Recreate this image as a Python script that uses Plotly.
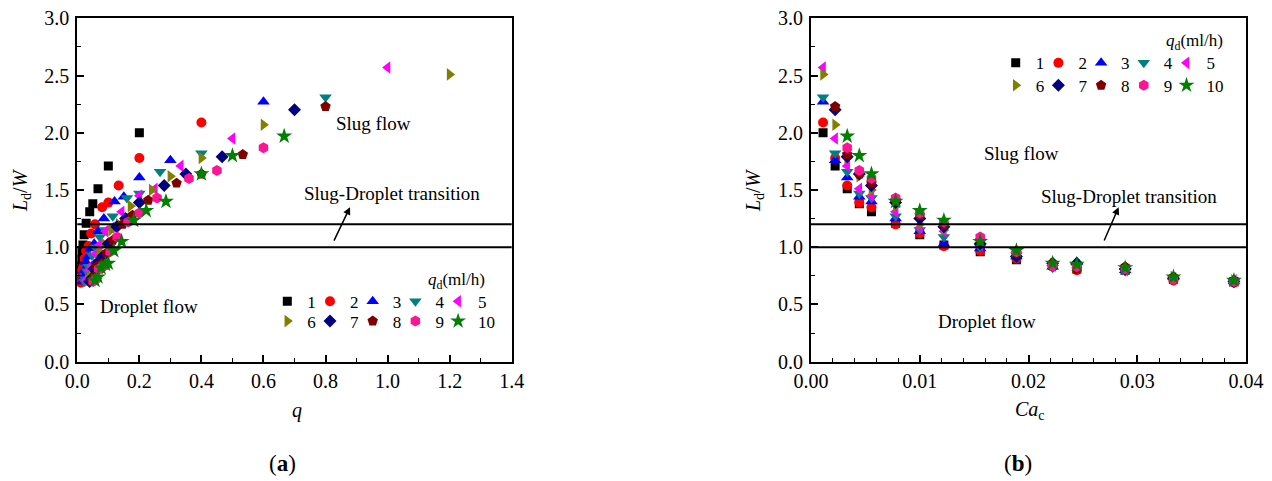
import plotly.graph_objects as go

# ---------------- data ----------------
qd_labels = ["1", "2", "3", "4", "5", "6", "7", "8", "9", "10"]

ca_c = [0.00111, 0.00222, 0.00333, 0.00444, 0.00556, 0.00778, 0.01, 0.01222,
        0.01556, 0.01889, 0.02222, 0.02444, 0.02889, 0.03333, 0.03889]

q1 = [0.2, 0.1, 0.0667, 0.05, 0.04, 0.0286, 0.0222, 0.0182, 0.0143, 0.0118, 0.01, 0.0091, 0.0077, 0.0067, 0.0057]
q2 = [0.4, 0.2, 0.1333, 0.1, 0.08, 0.0571, 0.0444, 0.0364, 0.0286, 0.0235, 0.02, 0.0182, 0.0154, 0.0133, 0.0114]
q3 = [0.6, 0.3, 0.2, 0.15, 0.12, 0.0857, 0.0667, 0.0545, 0.0429, 0.0353, 0.03, 0.0273, 0.0231, 0.02, 0.0171]
q4 = [0.8, 0.4, 0.2667, 0.2, 0.16, 0.1143, 0.0889, 0.0727, 0.0571, 0.0471, 0.04, 0.0364, 0.0308, 0.0267, 0.0229]
q5 = [1.0, 0.5, 0.3333, 0.25, 0.2, 0.1429, 0.1111, 0.0909, 0.0714, 0.0588, 0.05, 0.0455, 0.0385, 0.0333, 0.0286]
q6 = [1.2, 0.6, 0.4, 0.3, 0.24, 0.1714, 0.1333, 0.1091, 0.0857, 0.0706, 0.06, 0.0545, 0.0462, 0.04, 0.0343]
q7 = [0.7, 0.4667, 0.35, 0.28, 0.2, 0.1556, 0.1273, 0.1, 0.0824, 0.07, 0.0636, 0.0538, 0.0467, 0.04]
q8 = [0.8, 0.5333, 0.4, 0.32, 0.2286, 0.1778, 0.1455, 0.1143, 0.0941, 0.08, 0.0727, 0.0615, 0.0533, 0.0457]
q9 = [0.6, 0.45, 0.36, 0.2571, 0.2, 0.1636, 0.1286, 0.1059, 0.09, 0.0818, 0.0692, 0.06, 0.0514]
q10 = [0.6667, 0.5, 0.4, 0.2857, 0.2222, 0.1818, 0.1429, 0.1176, 0.1, 0.0909, 0.0769, 0.0667, 0.0571]

L1 = [2.00, 1.71, 1.51, 1.38, 1.31, 1.21, 1.11, 1.02, 0.96, 0.89, 0.84, 0.81, 0.80, 0.72, 0.70]
L2 = [2.09, 1.78, 1.54, 1.39, 1.35, 1.20, 1.12, 1.01, 0.97, 0.90, 0.83, 0.80, 0.80, 0.71, 0.69]
L3 = [2.27, 1.76, 1.61, 1.44, 1.40, 1.25, 1.14, 1.03, 0.99, 0.92, 0.83, 0.87, 0.80, 0.74, 0.70]
L4 = [2.31, 1.82, 1.66, 1.47, 1.43, 1.27, 1.15, 1.09, 1.00, 0.93, 0.82, 0.83, 0.79, 0.72, 0.70]
L5 = [2.57, 1.95, 1.71, 1.51, 1.45, 1.31, 1.17, 1.14, 1.02, 0.94, 0.84, 0.84, 0.80, 0.73, 0.71]
L6 = [2.51, 2.07, 1.78, 1.62, 1.50, 1.36, 1.20, 1.15, 1.03, 0.95, 0.85, 0.83, 0.81, 0.74, 0.71]
L7 = [2.20, 1.79, 1.64, 1.54, 1.39, 1.25, 1.18, 1.03, 0.92, 0.86, 0.86, 0.81, 0.73, 0.70]
L8 = [2.23, 1.81, 1.64, 1.56, 1.41, 1.28, 1.20, 1.06, 0.95, 0.86, 0.81, 0.83, 0.74, 0.71]
L9 = [1.87, 1.67, 1.60, 1.43, 1.30, 1.22, 1.09, 0.96, 0.84, 0.83, 0.81, 0.72, 0.70]
L10 = [1.97, 1.80, 1.64, 1.40, 1.32, 1.235, 1.05, 0.97, 0.86, 0.85, 0.82, 0.74, 0.71]

ca1 = ca_c
ca2 = ca_c
ca3 = ca_c
ca4 = ca_c
ca5 = ca_c
ca6 = ca_c
ca7 = ca_c[1:]
ca8 = ca_c[1:]
ca9 = ca_c[2:]
ca10 = ca_c[2:]

q_series = [q1, q2, q3, q4, q5, q6, q7, q8, q9, q10]
ca_series = [ca1, ca2, ca3, ca4, ca5, ca6, ca7, ca8, ca9, ca10]
L_series = [L1, L2, L3, L4, L5, L6, L7, L8, L9, L10]

# ---------------- style ----------------
symbols = ["square", "circle", "triangle-up", "triangle-down", "triangle-left",
           "triangle-right", "diamond", "pentagon", "hexagon", "star"]
colors = ["#000000", "#FF0000", "#0000FF", "#008080", "#FF00FF",
          "#808000", "#000080", "#800000", "#FF1493", "#008000"]
sizes = [9, 10, 11, 11, 11, 11, 10, 11, 11, 12]

FONT = "Liberation Serif"
# the page body has an 8px margin, so the figure is drawn 8px in from the corner
OFF = 8
W, H = 1272 - OFF, 481 - OFF

def px_x(p):
    return (p - OFF) / W

def px_y(p):
    return 1 - (p - OFF) / H

ITEM_W = 42.7 / W
LAST_W = 70 / W

fig = go.Figure()

for i in range(10):
    leg_left = "legend" if i < 5 else "legend2"
    fig.add_trace(go.Scatter(
        x=q_series[i], y=L_series[i], mode="markers", name=qd_labels[i],
        marker=dict(symbol=symbols[i], color=colors[i], size=sizes[i], line=dict(width=0)),
        xaxis="x", yaxis="y", legend=leg_left, showlegend=True,
        legendwidth=(LAST_W if i in (4, 9) else ITEM_W)))
for i in range(10):
    leg_right = "legend3" if i < 5 else "legend4"
    fig.add_trace(go.Scatter(
        x=ca_series[i], y=L_series[i], mode="markers", name=qd_labels[i],
        marker=dict(symbol=symbols[i], color=colors[i], size=sizes[i], line=dict(width=0)),
        xaxis="x2", yaxis="y2", legend=leg_right, showlegend=True,
        legendwidth=(LAST_W if i in (4, 9) else ITEM_W)))

axis_common = dict(
    showline=True, linecolor="black", linewidth=2, mirror=True,
    ticks="inside", ticklen=7, tickwidth=1.5, tickcolor="black",
    showgrid=False, zeroline=False, automargin=False, ticklabeloverflow="allow",
    tickfont=dict(family=FONT, size=20, color="black"),
)
xminor = lambda d: dict(dtick=d, ticks="inside", ticklen=4, tickcolor="black", tickwidth=1.2)

fig.update_layout(
    width=W, height=H,
    margin=dict(l=0, r=0, t=0, b=0, autoexpand=False),
    paper_bgcolor="white", plot_bgcolor="white",
    font=dict(family=FONT, color="black"),
    xaxis=dict(domain=[px_x(77.3), px_x(511.7)], range=[0, 1.4], dtick=0.2, tickformat=".1f",
               anchor="y", minor=xminor(0.1), ticklabelstandoff=0, **axis_common),
    yaxis=dict(domain=[px_y(361.7), px_y(18.3)], range=[0, 3], dtick=0.5, tickformat=".1f",
               anchor="x", minor=xminor(0.25), ticklabelstandoff=2, **axis_common),
    xaxis2=dict(domain=[px_x(811), px_x(1246)], range=[0, 0.04], dtick=0.01, tickformat=".2f",
                anchor="y2", minor=xminor(0.002), ticklabelstandoff=0, **axis_common),
    yaxis2=dict(domain=[px_y(361.7), px_y(18.3)], range=[0, 3], dtick=0.5, tickformat=".1f",
                anchor="x2", minor=xminor(0.25), ticklabelstandoff=2, **axis_common),
)

leg_common = dict(orientation="h", xanchor="left", yanchor="middle",
                  bgcolor="rgba(0,0,0,0)", borderwidth=0,
                  font=dict(family=FONT, size=17, color="black"),
                  entrywidthmode="fraction", entrywidth=ITEM_W,
                  itemsizing="trace", traceorder="normal")

fig.update_layout(
    legend=dict(x=px_x(287.3 - 20), y=px_y(301.7), **leg_common),
    legend2=dict(x=px_x(287.3 - 20), y=px_y(321.5), **leg_common),
    legend3=dict(x=px_x(1015.7 - 20), y=px_y(63.3), **leg_common),
    legend4=dict(x=px_x(1015.7 - 20), y=px_y(85.7), **leg_common),
)

# reference lines (transition band)
for yref, xref in [("y", "x domain"), ("y2", "x2 domain")]:
    for yv in [1.0, 1.2]:
        fig.add_shape(type="line", xref=xref, yref=yref, x0=0, x1=1, y0=yv, y1=yv,
                      line=dict(color="black", width=2))

txt = dict(family=FONT, size=19, color="black")
C = dict(xanchor="center", yanchor="middle", showarrow=False)
ann = []
# left panel texts
ann.append(dict(x=0.956, y=2.08, xref="x", yref="y", text="Slug flow", font=txt, **C))
ann.append(dict(x=1.014, y=1.47, xref="x", yref="y", text="Slug-Droplet transition", font=txt, **C))
ann.append(dict(x=0.23, y=0.48, xref="x", yref="y", text="Droplet flow", font=txt, **C))
ann.append(dict(x=0.879, y=1.35, ax=0.825, ay=1.045, xref="x", yref="y", axref="x", ayref="y",
                text="", showarrow=True, arrowhead=2, arrowsize=1, arrowwidth=1.5, arrowcolor="black"))
# right panel texts
ann.append(dict(x=0.01936, y=1.817, xref="x2", yref="y2", text="Slug flow", font=txt, **C))
ann.append(dict(x=0.02927, y=1.44, xref="x2", yref="y2", text="Slug-Droplet transition", font=txt, **C))
ann.append(dict(x=0.01615, y=0.349, xref="x2", yref="y2", text="Droplet flow", font=txt, **C))
ann.append(dict(x=0.02829, y=1.35, ax=0.0269, ay=1.046, xref="x2", yref="y2", axref="x2", ayref="y2",
                text="", showarrow=True, arrowhead=2, arrowsize=1, arrowwidth=1.5, arrowcolor="black"))
# legend titles
leg_title = "<i>q</i><sub>d</sub>(ml/h)"
ann.append(dict(x=px_x(487), y=px_y(281), xref="paper", yref="paper", xanchor="right", yanchor="middle",
                text=leg_title, showarrow=False, font=dict(family=FONT, size=17, color="black")))
ann.append(dict(x=px_x(1225), y=px_y(42), xref="paper", yref="paper", xanchor="right", yanchor="middle",
                text=leg_title, showarrow=False, font=dict(family=FONT, size=17, color="black")))
# axis titles
ytitle = "<i>L</i><sub>d</sub>/<i>W</i>"
big = dict(family=FONT, size=20, color="black")
ann.append(dict(x=px_x(21), y=px_y(190), xref="paper", yref="paper", text=ytitle, textangle=-90, font=big, **C))
ann.append(dict(x=px_x(754), y=px_y(190), xref="paper", yref="paper", text=ytitle, textangle=-90, font=big, **C))
ann.append(dict(x=px_x(297), y=px_y(410), xref="paper", yref="paper", text="<i>q</i>", font=big, **C))
ann.append(dict(x=px_x(1030), y=px_y(410), xref="paper", yref="paper", text="<i>Ca</i><sub>c</sub>", font=big, **C))
# panel labels
lab = dict(family=FONT, size=23, color="black")
ann.append(dict(x=px_x(282), y=px_y(463), xref="paper", yref="paper", text="(<b>a</b>)", font=lab, **C))
ann.append(dict(x=px_x(1018), y=px_y(463), xref="paper", yref="paper", text="(<b>b</b>)", font=lab, **C))

fig.update_layout(annotations=ann)

fig.write_html("out.html")
